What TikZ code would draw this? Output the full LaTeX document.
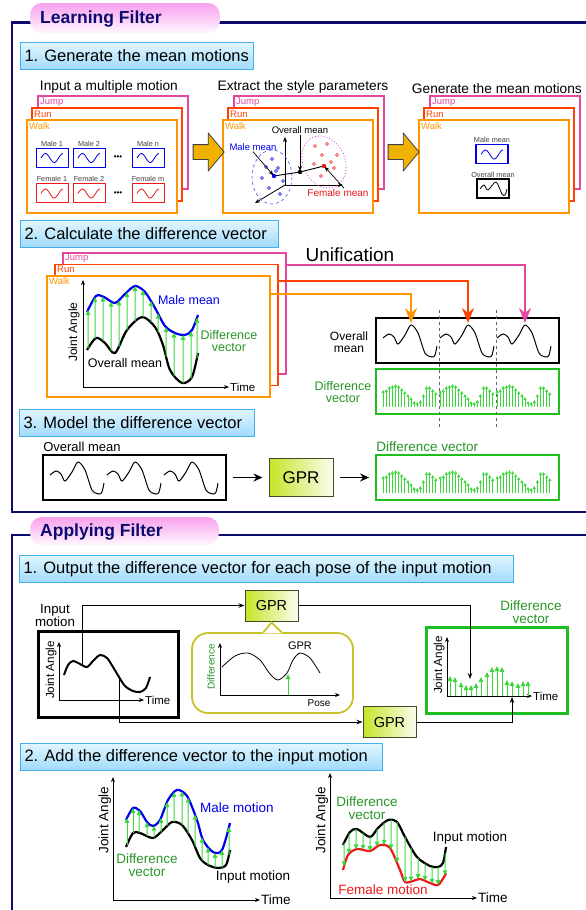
\documentclass[tikz,border=0pt]{standalone}
\usepackage{fontspec}
\setmainfont{Liberation Sans}
\usetikzlibrary{arrows.meta,intersections,shapes.arrows,positioning}

\definecolor{framenavy}{RGB}{12,12,110}
\definecolor{tabpink}{RGB}{249,160,238}
\definecolor{hdrline}{RGB}{70,175,235}
\definecolor{hdrtop}{RGB}{225,246,255}
\definecolor{hdrbot}{RGB}{160,218,250}
\definecolor{jumpcol}{RGB}{226,72,160}
\definecolor{runcol}{RGB}{255,66,0}
\definecolor{walkcol}{RGB}{255,150,0}
\definecolor{goldfill}{RGB}{240,178,0}
\definecolor{gprgreen}{RGB}{198,228,40}
\definecolor{gprline}{RGB}{70,70,40}
\definecolor{boxgreen}{RGB}{30,190,30}
\definecolor{arrowgreen}{RGB}{60,215,60}
\definecolor{textgreen}{RGB}{40,150,40}
\definecolor{maleblue}{RGB}{0,0,235}
\definecolor{femalered}{RGB}{235,25,25}
\definecolor{femalepink}{RGB}{225,90,225}
\definecolor{calloutline}{RGB}{200,195,40}

\tikzset{
  txt/.style={font=\fontsize{#1}{#1}\selectfont},
  framebar/.style={draw=framenavy, line width=2.2pt},
  tabshade/.style={top color=tabpink, bottom color=tabpink!8, rounded corners=12pt},
  tabtext/.style={anchor=west, inner sep=0pt, text=framenavy, font=\fontsize{17.5}{20}\selectfont\bfseries},
  sectionhead/.style={draw=hdrline, line width=1pt, top color=hdrtop, bottom color=hdrbot, anchor=north west, minimum height=27pt, inner xsep=4pt, inner ysep=0pt, txt=16.5},
  stackframe/.style={draw=#1, line width=1.8pt, fill=white, anchor=north west, inner sep=0pt},
  stacklabel/.style={anchor=west, inner sep=0pt, txt=9.5},
  stacktitle/.style={inner sep=1pt, txt=13.7},
  smallbox/.style={draw=#1, line width=1pt, fill=white, minimum width=32pt, minimum height=19pt, inner sep=0pt},
  smalllabel/.style={inner sep=1pt, text=black!75, txt=7.3},
  goldarrow/.style={single arrow, draw=black!75, line width=0.8pt, fill=goldfill, minimum height=31pt, inner xsep=0pt, inner ysep=7pt, single arrow head extend=11.5pt, single arrow tip angle=100},
  plotlabel/.style={inner sep=1pt, txt=#1},
  plotlabel/.default=11.5,
  axisarrow/.style={line width=0.8pt, -{Stealth[length=5pt,width=4pt]}},
  meancurve/.style={line width=2.2pt},
  wavecurve/.style={line width=1pt},
  diffarrow/.style={draw=arrowgreen, line width=1pt, -{Triangle[length=5pt,width=4.5pt]}},
  minidiff/.style={draw=arrowgreen, line width=0.7pt, -{Triangle[length=3pt,width=3pt]}},
  unifyline/.style={draw=#1, line width=2.2pt, -{Stealth[length=15pt,width=12pt,inset=5pt]}},
  meanframe/.style={draw=black, line width=1.8pt, fill=white, inner sep=0pt, minimum width=183pt, minimum height=45pt},
  diffframe/.style={draw=boxgreen, line width=1.8pt, fill=white, inner sep=0pt, minimum width=183pt, minimum height=45pt},
  gprbox/.style={draw=gprline, line width=1pt, left color=gprgreen, right color=gprgreen!8, inner sep=0pt},
  flowarrow/.style={line width=0.8pt, -{Stealth[length=6pt,width=4.5pt]}},
  bigflow/.style={line width=1.8pt, -{Stealth[length=9pt,width=8pt]}, shorten <=6pt, shorten >=6pt}
}

\newcommand{\meanwave}{%
  \foreach \s in {0,57,114} {
    \draw[wavecurve, shift={(\s,0)}] plot[smooth] coordinates {(383,338) (389,334) (394,337) (398,344) (405,335) (411,325) (418,333) (425,353) (432,357) (435,355) (437,346)};
  }%
}
\newcommand{\diffbars}{%
  \foreach \s in {0,57,114} {
    \foreach \h [count=\i] in {17,18,21,22,23,22,19,16,13,10,6,5,7,13,21,21,18,15} {
      \draw[minidiff] ({380+\s+3.1*\i},407) -- ++(0,-\h);
    }
  }%
}

\begin{document}
\begin{tikzpicture}[x=1pt,y=-1pt]
\useasboundingbox[fill=white] (0,0) rectangle (586,910);

\draw[framebar] (586,22.5) -- (12,22.5) -- (12,512) -- (586,512);
\shade[tabshade] (30,3) rectangle (220,33);
\node[tabtext] (learnTab) at (40,19.5) {Learning Filter};

\node[sectionhead] (headA) at (20,42) {\makebox[225pt][l]{1. Generate the mean motions}};

\foreach \s/\x in {A/26,B/222,C/418} {
  \node[stackframe=jumpcol, minimum width=150pt, minimum height=93pt] (jump\s) at (\x+11,95) {};
  \node[stackframe=runcol, minimum width=150pt, minimum height=93pt] (run\s) at (\x+5,107) {};
  \node[stackframe=walkcol, minimum width=150pt, minimum height=93pt] (walk\s) at (\x,119) {};
  \node[stacklabel, text=jumpcol] at ([shift={(3,7)}]jump\s.north west) {Jump};
  \node[stacklabel, text=runcol] at ([shift={(3,7)}]run\s.north west) {Run};
  \node[stacklabel, text=walkcol] at ([shift={(3,7)}]walk\s.north west) {Walk};
}
\node[stacktitle, above=0pt of jumpA, xshift=-4pt] (titleA) {Input a multiple motion};
\node[stacktitle, above=0pt of jumpB, xshift=-6pt] (titleB) {Extract the style parameters};
\node[stacktitle, above=0pt of jumpC, xshift=-8pt] (titleC) {Generate the mean motions};

\node[goldarrow] (moveAB) at (205.5,152) {};
\node[goldarrow] (moveBC) at (400.5,152) {};

\foreach \mx/\lab [count=\i] in {52/Male 1,89/Male 2,148/Male n} {
  \node[smallbox=maleblue] (male\i) at (\mx,157.5) {};
  \node[smalllabel, above=0pt of male\i] {\lab};
  \draw[maleblue, line width=0.8pt] plot[domain=0:1, samples=20, smooth, variable=\t] ({\mx-11+22*\t},{158-4.5*sin(450*\t)});
}
\foreach \mx/\lab [count=\i] in {52/Female 1,89/Female 2,148/Female m} {
  \node[smallbox=femalered] (female\i) at (\mx,193) {};
  \node[smalllabel, above=0pt of female\i] {\lab};
  \draw[femalered, line width=0.8pt] plot[domain=0:1, samples=20, smooth, variable=\t] ({\mx-11+22*\t},{193.5-4.5*sin(450*\t)});
}
\node[txt=8] (dotsM) at (118,157.5) {•••};
\node[txt=8] (dotsF) at (118,193.5) {•••};

\draw[axisarrow] (285,185) -- (285,137);
\draw[axisarrow] (285,185) -- (343,185);
\draw[axisarrow] (285,185) -- (255,203);
\draw[maleblue!60, dashed, line width=0.7pt] (272,177) ellipse [x radius=20, y radius=27];
\draw[femalepink, dotted, line width=0.9pt] (324,162) ellipse [x radius=21, y radius=27, rotate=25];
\foreach \p in {(272,159),(266,167),(278,168),(262,178),(283,181),(269,188),(280,194),(276,171)}
  \draw[maleblue, fill=white, line width=0.6pt] \p circle (1.5);
\foreach \p in {(315,146),(327,144),(322,155),(314,164),(331,162),(337,155),(334,168),(321,176)}
  \draw[femalered, fill=white, line width=0.6pt] \p circle (1.5);
\coordinate (mMean) at (274,176);
\coordinate (oMean) at (300,172);
\coordinate (fMean) at (324,166);
\draw[line width=0.9pt] (mMean) -- (oMean) -- (fMean);
\fill[maleblue] (mMean) circle (2.2);
\fill (oMean) circle (2.2);
\fill[femalered] (fMean) circle (2.2);
\node[txt=9.5, text=maleblue, inner sep=1pt] (mLabel) at (253,147) {Male mean};
\node[txt=9.5, inner sep=1pt] (oLabel) at (300,130) {Overall mean};
\node[txt=10, text=femalered, inner sep=1pt] (fLabel) at (338,193) {Female mean};
\draw[line width=0.7pt, -{Stealth[length=5pt,width=4pt]}, shorten >=1pt] (mLabel.south) -- (mMean);
\draw[line width=0.7pt, -{Stealth[length=5pt,width=4pt]}, shorten >=1pt] (oLabel.south) -- (oMean);
\draw[line width=0.7pt, -{Stealth[length=5pt,width=4pt]}, shorten >=1pt] ([xshift=6pt]fLabel.north) -- (fMean);

\node[smallbox=maleblue, line width=1.2pt] (maleMean) at (492,154) {};
\node[smalllabel, above=0pt of maleMean] {Male mean};
\draw[maleblue, line width=0.8pt] plot[domain=0:1, samples=20, smooth, variable=\t] ({481+22*\t},{154.5-4.5*sin(450*\t)});
\node[smallbox=black, line width=1.2pt] (overallMean) at (493,188.5) {};
\node[smalllabel, above=0pt of overallMean] {Overall mean};
\draw[line width=0.8pt] plot[smooth] coordinates {(480,189) (484,185) (488,190) (496,182) (502,194) (505,195) (507,189)};

\node[sectionhead] (headB) at (20,220) {\makebox[250pt][l]{2. Calculate the difference vector}};

\node[stackframe=jumpcol, minimum width=223pt, minimum height=121pt] (jumpS) at (62,252) {};
\node[stackframe=runcol, minimum width=223pt, minimum height=121pt] (runS) at (54,263.5) {};
\node[stackframe=walkcol, minimum width=223pt, minimum height=121pt] (walkS) at (46,275) {};
\node[stacklabel, text=jumpcol] at ([shift={(3,6)}]jumpS.north west) {Jump};
\node[stacklabel, text=runcol] at ([shift={(3,6)}]runS.north west) {Run};
\node[stacklabel, text=walkcol] at ([shift={(3,6)}]walkS.north west) {Walk};

\draw[axisarrow] (83,387) -- (83,280);
\draw[axisarrow] (83,387) -- (229,387);
\node[plotlabel, anchor=west] at (229,387) {Time};
\node[plotlabel=12, rotate=90] at (74,332) {Joint Angle};
\draw[meancurve, maleblue, name path=maleS] plot[smooth] coordinates {(87,312) (96,296) (104,297) (115,303) (125,294) (135,286) (145,292) (155,308) (165,326) (175,333) (185,335) (192,330) (198,315)};
\draw[meancurve, name path=meanS] plot[smooth] coordinates {(87,350) (96,338) (105,343) (115,353) (127,330) (142,317) (155,327) (163,345) (170,370) (182,383) (192,377) (198,353)};
\foreach \ax in {88,95,103,111,119,127,135,143,151,158,166,174,183,191,197} {
  \path[name path=vline] (\ax,270) -- (\ax,400);
  \path[name intersections={of=vline and maleS, by=dTop}];
  \path[name intersections={of=vline and meanS, by=dBot}];
  \draw[diffarrow] (dBot) -- (dTop);
}
\node[plotlabel=12.5, text=maleblue] at (189,300) {Male mean};
\node[plotlabel=12.5, text=textgreen, align=center] at (229,341) {Difference\\vector};
\node[plotlabel=12.5] at (125,363) {Overall mean};

\coordinate (tipW) at (411,323);
\coordinate (tipR) at (468,323);
\coordinate (tipJ) at (525,323);
\node[txt=19, anchor=west] (unifyText) at (302,255) {Unification};

\node[meanframe] (meanU) at (467.5,340.5) {};
\node[diffframe] (diffU) at (467.5,391.5) {};
\meanwave
\diffbars
\node[plotlabel=12, align=center] at (349,342) {Overall\\mean};
\node[plotlabel=12.5, text=textgreen, align=center] at (343,392) {Difference\\vector};
\draw[unifyline=jumpcol] (jumpS.north east) ++(0,13) -| (tipJ);
\draw[unifyline=runcol] (runS.north east) ++(0,17.5) -| (tipR);
\draw[unifyline=walkcol] (walkS.north east) ++(0,19) -| (tipW);
\foreach \dx in {439,496}
  \draw[dashed, black!60, line width=0.8pt] (\dx,310) -- (\dx,428);

\node[sectionhead] (headC) at (19,409) {\makebox[227pt][l]{3. Model the difference vector}};
\node[meanframe] (meanM) at (134.5,477.5) {};
\begin{scope}[shift={(-333,137)}]
  \meanwave
\end{scope}
\node[plotlabel=13, anchor=south west] at ([yshift=1pt]meanM.north west) {Overall mean};
\node[gprbox, minimum width=64pt, minimum height=38pt, txt=17] (gprM) at (301,477.5) {GPR};
\node[diffframe] (diffM) at (467.5,477.5) {};
\begin{scope}[shift={(0,86)}]
  \diffbars
\end{scope}
\node[plotlabel=13.5, text=textgreen, anchor=south west] at ([yshift=1pt]diffM.north west) {Difference vector};
\draw[bigflow] (meanM) -- (gprM);
\draw[bigflow] (gprM) -- (diffM);

\draw[framebar] (586,535) -- (12,535) -- (12,910);
\shade[tabshade] (30,517) rectangle (219,545);
\node[tabtext] (applyTab) at (40,532) {Applying Filter};

\node[sectionhead] (headD) at (19,555) {\makebox[486pt][l]{1. Output the difference vector for each pose of the input motion}};

\node[draw, line width=2.5pt, minimum width=140pt, minimum height=86pt, inner sep=0pt, anchor=north west] (inBox) at (37,630) {};
\node[plotlabel=13.3, align=center] (inLabel) at (55,615.5) {Input\\motion};
\draw[axisarrow] (59,700) -- (59,642);
\draw[axisarrow] (59,700) -- (144,700);
\node[plotlabel, anchor=west] at (144,700) {Time};
\node[plotlabel=11.7, rotate=90] at (51,670) {Joint Angle};
\draw[line width=2pt] plot[smooth] coordinates {(64,675) (68,665) (73,661) (80,664) (87,667) (93,661) (100,655) (107,658) (113,667) (119,677) (125,686) (133,691) (140,692) (146,688) (150,677)};
\coordinate (inA) at (82,665);
\coordinate (inB) at (119,677);

\node[gprbox, minimum width=53pt, minimum height=31pt, txt=14.5] (gprA) at (271.5,605.5) {GPR};
\node[gprbox, minimum width=53pt, minimum height=31pt, txt=14.5] (gprB) at (389.5,722) {GPR};

\node[draw=calloutline, line width=1.8pt, rounded corners=16pt, minimum width=161pt, minimum height=80pt, fill=white] (gprPlot) at (272.5,673) {};
\fill[white] ([shift={(-9.5,1.2)}]gprPlot.north) -- (gprA.south) -- ([shift={(9.5,1.2)}]gprPlot.north) -- cycle;
\draw[calloutline, line width=1.8pt] ([xshift=-9pt]gprPlot.north) -- ([yshift=-1pt]gprA.south) -- ([xshift=9pt]gprPlot.north);
\draw[axisarrow, line width=0.7pt] (220,695) -- (220,643);
\draw[axisarrow, line width=0.7pt] (220,695) -- (340,695);
\node[plotlabel=10] at (319,703) {Pose};
\node[plotlabel=10, rotate=90, text=textgreen] at (211,667) {Difference};
\draw[line width=0.8pt] plot[smooth] coordinates {(222,667) (235,656) (248,653) (260,660) (270,674) (278,680) (287,673) (293,660) (300,653) (310,658) (320,673)};
\node[plotlabel=11] at (300,646) {GPR};
\draw[diffarrow] (288,695) -- (288,674);

\node[draw=boxgreen, line width=2.5pt, minimum width=141pt, minimum height=86pt, inner sep=0pt, anchor=north west] (outBox) at (425,626) {};
\node[plotlabel=13.5, text=textgreen, align=center] at (531,612) {Difference\\vector};
\draw[axisarrow] (447,696) -- (447,637);
\draw[axisarrow] (447,696) -- (532,696);
\node[plotlabel, anchor=west] at (532,696) {Time};
\node[plotlabel=11.7, rotate=90] at (439,665) {Joint Angle};
\foreach \ax/\ay in {450/676,455/677,461/682,466/685,471/685,476/683,481/677,487/672,492/667,497/666,502/667,507/680,512/681,518/683,523/681,528/681}
  \draw[diffarrow] (\ax,696) -- (\ax,\ay);
\coordinate (outA) at (470,679);
\coordinate (outB) at (512,697);

\draw[flowarrow] (inA) |- (gprA);
\draw[flowarrow] (inB) |- (gprB);
\draw[flowarrow] (gprA) -| (outA);
\draw[flowarrow] (gprB) -| (outB);

\node[sectionhead] (headE) at (20,743) {\makebox[354pt][l]{2. Add the difference vector to the input motion}};

\draw[axisarrow, line width=1pt] (113,900) -- (113,777);
\draw[axisarrow, line width=1pt] (113,900) -- (260,900);
\node[plotlabel=13.5, anchor=west] at (260,900) {Time};
\node[plotlabel=13.5, rotate=90] at (105,820) {Joint Angle};
\draw[meancurve, maleblue, name path=maleE] plot[smooth] coordinates {(126,820) (133,808) (140,811) (147,822) (153,826) (160,820) (168,800) (177,790) (187,796) (197,820) (203,840) (213,852) (222,850) (230,823)};
\draw[meancurve, name path=inputE] plot[smooth] coordinates {(126,847) (133,833) (140,833) (153,838) (163,830) (172,822) (182,825) (192,840) (200,858) (208,865) (218,868) (226,865) (230,850)};
\foreach \ax in {127,133,139,147,154,161,167,174,182,188,195,202,208,215,222,229} {
  \path[name path=vline] (\ax,770) -- (\ax,900);
  \path[name intersections={of=vline and maleE, by=dTop}];
  \path[name intersections={of=vline and inputE, by=dBot}];
  \draw[diffarrow] (dBot) -- (dTop);
}
\node[plotlabel=13.5, text=maleblue] at (237,808) {Male motion};
\node[plotlabel=13.5, text=textgreen, align=center] at (147,865) {Difference\\vector};
\node[plotlabel=13.5] at (253,877) {Input motion};

\draw[axisarrow, line width=1pt] (330,898) -- (330,773);
\draw[axisarrow, line width=1pt] (330,898) -- (477,898);
\node[plotlabel=13.5, anchor=west] at (477,898) {Time};
\node[plotlabel=13.5, rotate=90] at (322,820) {Joint Angle};
\draw[meancurve, name path=inputF] plot[smooth] coordinates {(343,845) (350,832) (357,829) (370,837) (378,828) (388,820) (397,822) (405,837) (417,857) (430,866) (438,867) (443,863) (446,847)};
\draw[meancurve, femalered, name path=femaleF] plot[smooth] coordinates {(343,870) (348,855) (357,849) (370,851) (380,845) (390,848) (400,870) (405,882) (413,881) (420,879) (430,883) (438,885) (444,877) (446,873)};
\foreach \ax in {344,349,356,363,370,377,384,391,397,405,411,418,425,432,438,445} {
  \path[name path=vline] (\ax,800) -- (\ax,900);
  \path[name intersections={of=vline and inputF, by=dTop}];
  \path[name intersections={of=vline and femaleF, by=dBot}];
  \draw[diffarrow] (dTop) -- (dBot);
}
\node[plotlabel=13.5, text=textgreen, align=center] at (367,808) {Difference\\vector};
\node[plotlabel=13.5] at (470,838) {Input motion};
\node[plotlabel=13.5, text=femalered] at (383,890) {Female motion};
\end{tikzpicture}
\end{document}
